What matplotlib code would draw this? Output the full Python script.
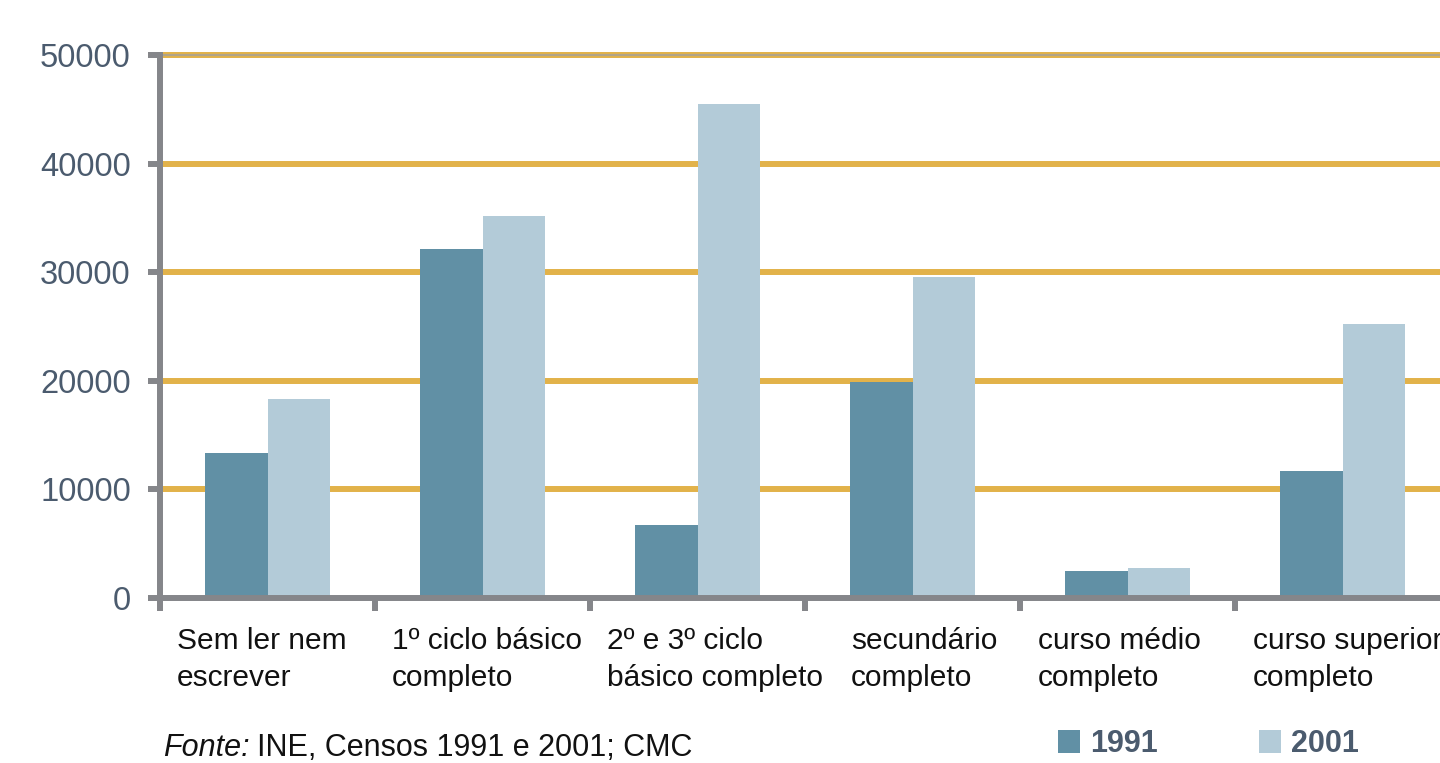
import numpy as np
import matplotlib.pyplot as plt

plt.rcParams['font.family'] = ['Liberation Sans', 'DejaVu Sans']

categorias = ['Sem ler nem\nescrever', '1º ciclo básico\ncompleto',
              '2º e 3º ciclo\nbásico completo', 'secundário\ncompleto',
              'curso médio\ncompleto', 'curso superior\ncompleto']
v1991 = [13350, 32150, 6700, 19900, 2500, 11700]
v2001 = [18350, 35150, 45500, 29550, 2750, 25250]
anos = ['1991', '2001']
yticks = [0, 10000, 20000, 30000, 40000, 50000]

c1991 = '#6190a5'
c2001 = '#b3cbd8'
gold = '#e2b24a'
grey = '#85868a'

W, H = 1440, 763
fig = plt.figure(figsize=(W / 100, H / 100), dpi=100)
ax = fig.add_axes([160 / W, 165 / H, 1290 / W, 543 / H])

x = np.arange(len(categorias))
w = 0.293
b1 = ax.bar(x - w / 2, v1991, w, color=c1991, zorder=3, label=anos[0])
b2 = ax.bar(x + w / 2, v2001, w, color=c2001, zorder=3, label=anos[1])

ax.set_xlim(-0.5, len(categorias) - 0.5)
ax.set_ylim(0, 50000)
ax.set_yticks(yticks)
ax.set_yticklabels([str(t) for t in yticks], fontsize=23.5, color='#4b5b6e')
for t in yticks[1:]:
    ax.axhline(t, color=gold, lw=4.3, zorder=1, clip_on=False)
ax.axhline(50000, color='#b0a48a', lw=1.5, zorder=2, clip_on=False)

for s in ['top', 'right']:
    ax.spines[s].set_visible(False)
for s in ['left', 'bottom']:
    ax.spines[s].set_color(grey)
    ax.spines[s].set_linewidth(4.3)
    ax.spines[s].set_zorder(4)

ax.tick_params(axis='y', length=9, width=4.3, color=grey, pad=12)
ax.set_xticks(np.arange(len(categorias)) - 0.5)
ax.set_xticklabels([])
ax.tick_params(axis='x', length=9, width=4.3, color=grey)

# category labels, left aligned inside each slot
offs = [0.079, 0.079, 0.079, 0.214, 0.084, 0.084]
for i, lab in enumerate(categorias):
    ax.annotate(lab, xy=(i - 0.5 + offs[i], 0), xycoords=('data', 'axes fraction'),
                xytext=(0, -21), textcoords='offset points', ha='left', va='top',
                fontsize=21.5, color='#111111', linespacing=1.42,
                annotation_clip=False)

fig.text(163 / W, 15 / H, 'Fonte:', style='italic', fontsize=22,
         color='#111111', va='center', ha='left')
fig.text(257 / W, 15 / H, 'INE, Censos 1991 e 2001; CMC', fontsize=22,
         color='#111111', va='center', ha='left')

leg = fig.legend(handles=[b1, b2], labels=anos, ncol=2, frameon=False,
                 loc='center left', bbox_to_anchor=(1058 / W, 19 / H),
                 bbox_transform=fig.transFigure, borderpad=0, borderaxespad=0,
                 handlelength=0.72, handleheight=0.8, handletextpad=0.33,
                 columnspacing=3.3, prop={'size': 22, 'weight': 'bold'})
for t in leg.get_texts():
    t.set_color('#4b5b6e')

fig.savefig('out.png', dpi=100)
